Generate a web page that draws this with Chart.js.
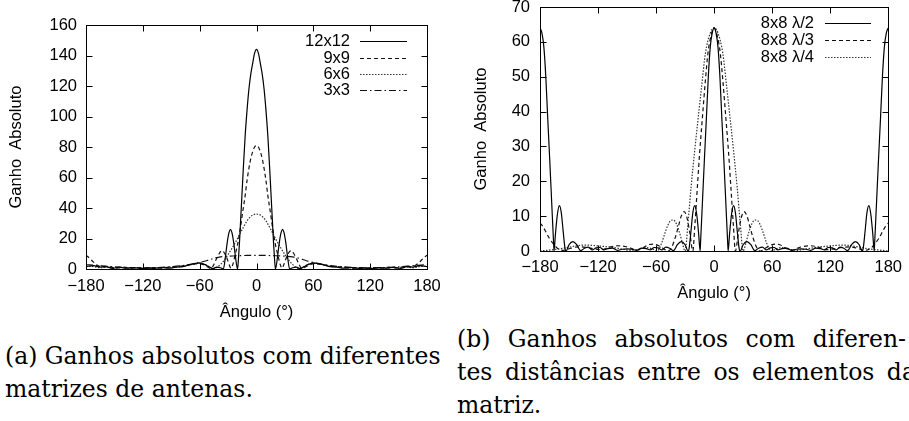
<!DOCTYPE html>
<html>
<head>
<meta charset="utf-8">
<script src="https://cdn.jsdelivr.net/npm/chart.js@4/dist/chart.umd.min.js"></script>
<style>
  html, body { margin: 0; padding: 0; background: #fff; }
  body { width: 909px; height: 421px; position: relative; overflow: hidden; }
  canvas { position: absolute; }
  #chartA { left: 0; top: 0; }
  #chartB { left: 450px; top: -20px; }
  .cap { position: absolute; font-family: "DejaVu Serif", "Liberation Serif", serif; font-size: 23.5px; line-height: 33px; white-space: nowrap; color: #000; }
</style>
</head>
<body>
<canvas id="chartA" width="450" height="330"></canvas>
<canvas id="chartB" width="459" height="330"></canvas>
<div class="cap" style="left:5px; top:340px;">(a) Ganhos absolutos com diferentes</div>
<div class="cap" style="left:5px; top:373px;">matrizes de antenas.</div>
<div class="cap" style="left:457px; top:323px; word-spacing:10px;">(b) Ganhos absolutos com diferen-</div>
<div class="cap" style="left:457px; top:356px; word-spacing:5px;">tes distâncias entre os elementos da</div>
<div class="cap" style="left:457px; top:389px;">matriz.</div>
<script>
// ticks
const xTicks = [-180, -120, -60, 0, 60, 120, 180];
const yTicksA = [0, 20, 40, 60, 80, 100, 120, 140, 160];
const yTicksB = [0, 10, 20, 30, 40, 50, 60, 70];

// (a) different array sizes
const namesA = ["12x12", "9x9", "6x6", "3x3"];

const ang12 = [-180,-172,-165,-160,-152,-145,-138,-130,-122,-115,-108,-100,-92,-85,-78,-72,-66,-60,-55,-50,-46,-42,-38,-35,-33,-31,-29,-27.5,-26,-24,-22,-20,-19,-18,-16,-14,-12,-10,-8,-6,-4,-2,0,
  2,4,6,8,10,12,14,16,18,19,20,22,24,26,27.5,29,31,33,35,38,42,46,50,55,60,66,72,78,85,92,100,108,115,122,130,138,145,152,160,165,172,180];
const gain12 = [1.5,2.2,1.2,1.8,0.4,1.2,0.5,1,0.3,0.8,0.4,1,0.5,1.2,1.5,2.5,3.5,4,3,1.5,0.3,1.2,0.8,0,7,17,24,26,24,17,7,0,7,17,41,65,87,104,118,128,135,141.5,144,
  141.5,135,128,118,104,87,65,41,17,7,0,7,17,24,26,24,17,7,0,0.8,1.2,0.3,1.5,3,4,3.5,2.5,1.5,1.2,0.5,1,0.4,0.8,0.3,1,0.5,1.2,0.4,1.8,1.2,2.2,1.5];

const ang9 = [-180,-176,-172,-168,-163,-156,-148,-140,-132,-124,-116,-108,-100,-92,-84,-76,-68,-62,-57,-52,-48,-45,-42,-39,-37,-35,-33,-30,-28,-27,-25,-23,-20,-17,-14.8,-12,-10,-8,-6,-4,-2,0,
  2,4,6,8,10,12,14.8,17,20,23,25,27,28,30,33,35,37,39,42,45,48,52,57,62,68,76,84,92,100,108,116,124,132,140,148,156,163,168,172,176,180];
const gain9 = [9,7,4.5,2.5,1.2,1.5,0.6,1.2,0.5,1,0.4,1,0.6,1.2,1.5,2.2,3,3.5,3,1.5,0.3,3,7,10.5,12,11.5,9.5,5,1.5,0.5,3,8,16,27,36.5,48,58,66,72.5,77,80,81,
  80,77,72.5,66,58,48,36.5,27,16,8,3,0.5,1.5,5,9.5,11.5,12,10.5,7,3,0.3,1.5,3,3.5,3,2.2,1.5,1.2,0.6,1,0.4,1,0.5,1.2,0.6,1.5,1.2,2.5,4.5,7,9];

const ang6 = [-180,-172,-165,-158,-150,-142,-135,-128,-120,-112,-104,-96,-88,-80,-74,-68,-62,-57,-52,-48,-45,-42,-38,-35,-30,-25,-20,-15,-10,-5,0,
  5,10,15,20,25,30,35,38,42,45,48,52,57,62,68,74,80,88,96,104,112,120,128,135,142,150,158,165,172,180];
const gain6 = [2,1.5,0.8,1.2,0.6,1,0.5,0.9,0.4,0.9,0.5,1,1.2,1.5,2.2,3,3.6,3.5,2.2,0.8,0.3,1,3,5,9.5,14.5,20,26,31.5,35,36,
  35,31.5,26,20,14.5,9.5,5,3,1,0.3,0.8,2.2,3.5,3.6,3,2.2,1.5,1.2,1,0.5,0.9,0.4,0.9,0.5,1,0.6,1.2,0.8,1.5,2];

const ang3 = [-180,-170,-160,-150,-140,-130,-120,-110,-100,-90,-80,-70,-60,-52,-45,-38,-30,-20,-10,0,
  10,20,30,38,45,52,60,70,80,90,100,110,120,130,140,150,160,170,180];
const gain3 = [2.8,2.4,1.9,1.4,1,0.7,0.6,0.8,1.1,1.5,2.1,3,4.3,5.6,7,8,8.4,8.7,8.9,9,
  8.9,8.7,8.4,8,7,5.6,4.3,3,2.1,1.5,1.1,0.8,0.6,0.7,1,1.4,1.9,2.4,2.8];

// (b) 8x8 with different element spacing
const namesB = ["8x8 \u03bb/2", "8x8 \u03bb/3", "8x8 \u03bb/4"];

const angL2 = [-180,-178,-176,-174,-172,-170,-168,-166,-165.5,-164,-162,-160,-158,-156,-154,-153,-150,-146,-142,-138,-134,-130,-126,-122,-118,-114,-110,-105,-100,-95,-90,-85,-80,-75,-70,-66,-62,-58,-54,-50,-46,-42,-38,-34,-30,-27,-26,-24,-22,-20,-18,-16,-14.5,-14,-12,-10,-8,-6,-4,-2,0,
  2,4,6,8,10,12,14,14.5,16,18,20,22,24,26,27,30,34,38,42,46,50,54,58,62,66,70,75,80,85,90,95,100,105,110,114,118,122,126,130,134,138,142,146,150,153,154,156,158,160,162,164,165.5,166,168,170,172,174,176,178,180];
const gainL2 = [64,62.5,58.5,50,38,26.5,14.5,2.5,0,5,10.5,13,11,5.5,0.5,0,1.8,2.7,1.8,0.1,0.8,1.1,0.3,0.9,1,0.3,0.7,0.8,0.2,0.5,0.6,0.5,0.2,0.8,0.7,0.3,1,0.9,0.3,1.1,0.8,0.1,1.8,2.7,1.8,0,0.5,5.5,11,13,10.5,5,0,2.5,14.5,26.5,38,50,58.5,62.5,64,
  62.5,58.5,50,38,26.5,14.5,2.5,0,5,10.5,13,11,5.5,0.5,0,1.8,2.7,1.8,0.1,0.8,1.1,0.3,0.9,1,0.3,0.7,0.8,0.2,0.5,0.6,0.5,0.2,0.8,0.7,0.3,1,0.9,0.3,1.1,0.8,0.1,1.8,2.7,1.8,0,0.5,5.5,11,13,10.5,5,0,2.5,14.5,26.5,38,50,58.5,62.5,64];

const angL3 = [-180,-177,-174,-170,-166,-162,-156,-148,-140,-132,-124,-116,-108,-100,-92,-86,-80,-74,-68,-63,-58,-53,-48,-44,-40,-37,-34,-31,-28,-25,-22,-20,-17.3,-15,-12.3,-9,-6.4,-3,0,
  3,6.4,9,12.3,15,17.3,20,22,25,28,31,34,37,40,44,48,53,58,63,68,74,80,86,92,100,108,116,124,132,140,148,156,162,166,170,174,177,180];
const gainL3 = [8,7,5.5,3.5,2,0.8,0.2,0.8,1.2,1,0.6,0.4,1.1,1.5,1.3,0.8,0.2,0.8,1.8,2,1.6,0.8,0,1,4,7,10,11.3,9.5,5,0,7,18.4,28,37.6,49,56.7,62,64,
  62,56.7,49,37.6,28,18.4,7,0,5,9.5,11.3,10,7,4,1,0,0.8,1.6,2,1.8,0.8,0.2,0.8,1.3,1.5,1.1,0.4,0.6,1,1.2,0.8,0.2,0.8,2,3.5,5.5,7,8];

const angL4 = [-180,-173,-166,-158,-150,-142,-134,-126,-118,-110,-102,-94,-86,-78,-70,-64,-59,-57,-54,-51,-48,-45,-42,-39,-36,-33,-30,-27,-23.8,-20,-16.7,-13,-9,-4,0,
  4,9,13,16.7,20,23.8,27,30,33,36,39,42,45,48,51,54,57,59,64,70,78,86,94,102,110,118,126,134,142,150,158,166,173,180];
const gainL4 = [0,0.2,0.4,0.7,1.1,1.5,1.7,1.6,1.4,1.2,0.9,0.5,0.2,0.5,1,0.6,0,0.5,2.5,5,7.3,8.7,8.9,7.8,5.5,2.5,0,8,18.4,29,37.6,47,56.7,62.5,64,
  62.5,56.7,47,37.6,29,18.4,8,0,2.5,5.5,7.8,8.9,8.7,7.3,5,2.5,0.5,0,0.6,1,0.5,0.2,0.5,0.9,1.2,1.4,1.6,1.7,1.5,1.1,0.7,0.4,0.2,0];

// line styles in gnuplot order
const dashes = [[], [4, 3], [1.5, 1.5], [7, 3, 1.5, 3]];
const inks = ["#000", "#111", "#333", "#111"];

const FONT = "'Liberation Sans', Arimo, Helvetica, Arial, sans-serif";
Chart.defaults.font.family = FONT;
Chart.defaults.font.size = 16.5;
Chart.defaults.color = "#000";

function pts(xs, ys) {
  return xs.map((x, i) => ({ x: x, y: ys[i] }));
}

const framePlugin = {
  id: "frame",
  afterDatasetsDraw(chart, args, opts) {
    const { ctx, chartArea: a, scales } = chart;
    const seg = (x1, y1, x2, y2) => { ctx.beginPath(); ctx.moveTo(x1, y1); ctx.lineTo(x2, y2); ctx.stroke(); };
    ctx.save();
    ctx.strokeStyle = "#000";
    ctx.lineWidth = 1;
    ctx.setLineDash([]);
    const L = Math.round(a.left) + 0.5, R = Math.round(a.right) + 0.5;
    const T = Math.round(a.top) + 0.5, B = Math.round(a.bottom) + 0.5;
    ctx.strokeRect(L, T, R - L, B - T);
    const tl = 6;
    scales.x.ticks.forEach(t => {
      const px = Math.round(scales.x.getPixelForValue(t.value)) + 0.5;
      seg(px, B, px, B - tl);
      seg(px, T, px, T + tl);
    });
    scales.y.ticks.forEach(t => {
      const py = Math.round(scales.y.getPixelForValue(t.value)) + 0.5;
      seg(L, py, L + tl, py);
      seg(R, py, R - tl, py);
    });
    // gnuplot style key
    ctx.font = "16.5px " + FONT;
    ctx.textAlign = "right";
    ctx.textBaseline = "middle";
    ctx.fillStyle = "#000";
    chart.data.datasets.forEach((ds, i) => {
      const y = opts.rows[i];
      ctx.fillText(ds.label, opts.textRight, y);
      ctx.setLineDash(ds.borderDash || []);
      ctx.strokeStyle = ds.borderColor;
      ctx.lineWidth = ds.borderWidth;
      seg(opts.x1, y + 0.5, opts.x2, y + 0.5);
    });
    ctx.restore();
  }
};

function makeChart(id, names, series, yTicks, ymax, geo) {
  const datasets = names.map((n, i) => ({
    label: n,
    data: pts(series[i][0], series[i][1]),
    borderColor: inks[i],
    borderDash: dashes[i],
    borderWidth: 1.2,
    pointRadius: 0,
    cubicInterpolationMode: "monotone",
    fill: false
  }));
  return new Chart(document.getElementById(id), {
    type: "line",
    data: { datasets },
    plugins: [framePlugin],
    options: {
      responsive: false,
      animation: false,
      events: [],
      layout: { padding: { left: 0, right: geo.padRight, top: geo.padTop, bottom: 0 } },
      plugins: {
        legend: { display: false },
        tooltip: { enabled: false },
        frame: { rows: geo.rows, textRight: geo.textRight, x1: geo.x1, x2: geo.x2 }
      },
      scales: {
        x: {
          type: "linear", min: -180, max: 180,
          afterBuildTicks: s => { s.ticks = xTicks.map(v => ({ value: v })); },
          afterFit: s => { s.height = geo.xHeight; },
          ticks: { padding: geo.xPad, maxRotation: 0, autoSkip: false, callback: v => String(v).replace("-", "\u2212") },
          grid: { display: false, drawTicks: false },
          border: { display: false },
          title: { display: true, text: "\u00c2ngulo (\u00b0)", padding: { top: 0, bottom: geo.xTitlePad } }
        },
        y: {
          min: 0, max: ymax,
          afterBuildTicks: s => { s.ticks = yTicks.map(v => ({ value: v })); },
          afterFit: s => { s.width = geo.yWidth; },
          ticks: { padding: geo.yPad, autoSkip: false },
          grid: { display: false, drawTicks: false },
          border: { display: false },
          title: { display: true, text: "Ganho  Absoluto", padding: { top: geo.yTitlePad, bottom: 0 } }
        }
      }
    }
  });
}

makeChart("chartA", namesA,
  [[ang12, gain12], [ang9, gain9], [ang6, gain6], [ang3, gain3]],
  yTicksA, 160,
  { padRight: 23, padTop: 25, xHeight: 61, yWidth: 86, xPad: 8, yPad: 9, xTitlePad: 8, yTitlePad: 7,
    rows: [41, 58, 74, 90], textRight: 350, x1: 360, x2: 407 });

makeChart("chartB", namesB,
  [[angL2, gainL2], [angL3, gainL3], [angL4, gainL4]],
  yTicksB, 70,
  { padRight: 17, padTop: 27, xHeight: 59, yWidth: 90, xPad: 7, yPad: 10, xTitlePad: 7, yTitlePad: 22,
    rows: [43, 60, 77], textRight: 364, x1: 375, x2: 421 });
</script>
</body>
</html>
